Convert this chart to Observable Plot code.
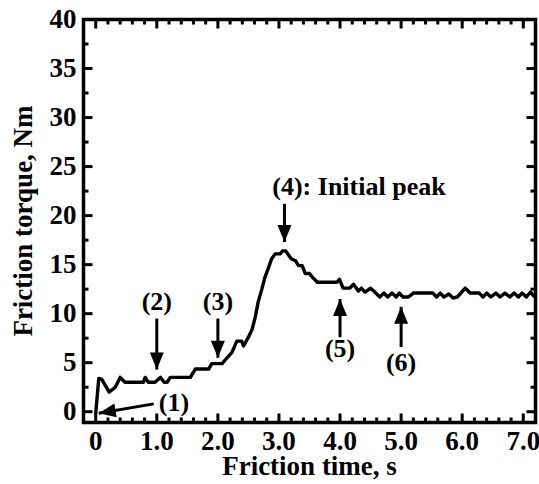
<!DOCTYPE html>
<html><head><meta charset="utf-8">
<script src="https://cdn.jsdelivr.net/npm/d3@7"></script>
<script src="https://cdn.jsdelivr.net/npm/@observablehq/plot@0.6"></script>
<style>body{margin:0;background:#fff} svg{display:block}</style>
</head><body><div id="chart"></div>
<script>
// ---- data ----
const time = [0.0, 0.05, 0.10, 0.22, 0.32, 0.40, 0.48, 0.78, 0.81, 0.86, 0.97, 1.06, 1.12, 1.17, 1.22, 1.55,
  1.63, 1.85, 1.90, 2.07, 2.15, 2.23, 2.31, 2.39, 2.42, 2.50, 2.56, 2.61, 2.66, 2.72, 2.77, 2.83, 2.88, 2.94, 3.02,
  3.06, 3.11, 3.20, 3.27, 3.32, 3.38, 3.43, 3.50, 3.55, 3.63, 3.95, 3.99, 4.05, 4.16, 4.22, 4.30, 4.35, 4.41, 4.50,
  4.57, 4.65, 4.72, 4.78, 4.85, 4.92, 4.97, 5.03, 5.12, 5.20, 5.52, 5.58, 5.64, 5.70, 5.78, 5.85, 5.92, 6.05, 6.13,
  6.28, 6.34, 6.40, 6.47, 6.55, 6.62, 6.70, 6.78, 6.85, 6.92, 6.98, 7.05, 7.12, 7.17];
const torque = [-0.2, 3.4, 3.3, 2.0, 2.5, 3.5, 3.0, 3.0, 3.5, 3.0, 3.0, 3.5, 3.0, 3.0, 3.5, 3.5,
  4.35, 4.35, 4.9, 4.9, 5.5, 6.05, 7.2, 7.2, 6.7, 7.6, 8.4, 9.6, 11.2, 12.5, 13.7, 14.7, 15.6, 16.1, 16.1,
  16.4, 16.4, 15.6, 15.4, 14.9, 14.9, 14.1, 14.1, 13.7, 13.2, 13.2, 13.5, 12.6, 12.6, 13.0, 12.3, 12.6, 12.2, 12.6,
  12.2, 11.7, 12.1, 11.7, 12.1, 11.7, 12.1, 11.7, 11.7, 12.1, 12.1, 11.7, 12.1, 11.7, 12.0, 11.6, 11.7, 12.6, 12.1,
  12.1, 11.7, 12.1, 11.7, 12.1, 11.7, 12.1, 11.7, 12.1, 11.7, 12.1, 11.7, 12.2, 11.8];

const xTicks = [0, 1, 2, 3, 4, 5, 6, 7];
const xTickLabels = ["0", "1.0", "2.0", "3.0", "4.0", "5.0", "6.0", "7.0"];
const xMinor = [0.2, 0.4, 0.6, 0.8, 1.2, 1.4, 1.6, 1.8, 2.2, 2.4, 2.6, 2.8, 3.2, 3.4, 3.6, 3.8,
  4.2, 4.4, 4.6, 4.8, 5.2, 5.4, 5.6, 5.8, 6.2, 6.4, 6.6, 6.8];
const yTicks = [0, 5, 10, 15, 20, 25, 30, 35, 40];
const yTickLabels = ["0", "5", "10", "15", "20", "25", "30", "35", "40"];
const yMinor = [2.5, 7.5, 12.5, 17.5, 22.5, 27.5, 32.5, 37.5];

const noteText = ["(1)", "(2)", "(3)", "(4): Initial peak", "(5)", "(6)"];
const noteX = [1.28, 1.0, 2.0, 4.31, 4.0, 5.0];
const noteY = [0.9, 11.2, 11.2, 22.9, 6.4, 5.0];
const arrowX1 = [0.95, 1.0, 2.0, 3.09, 4.0, 5.0];
const arrowY1 = [0.8, 9.5, 9.5, 21.2, 7.6, 6.6];
const arrowX2 = [0.05, 1.0, 2.0, 3.09, 4.0, 5.0];
const arrowY2 = [-0.15, 4.3, 5.5, 17.3, 11.5, 10.7];
const arrowDir = ["left", "down", "down", "down", "up", "up"];

// ---- build ----
const series = time.map((t, i) => ({t, v: torque[i]}));
const notes = noteText.map((s, i) => ({s, x: noteX[i], y: noteY[i]}));
const arrows = arrowDir.map((d, i) => ({d, x1: arrowX1[i], y1: arrowY1[i], x2: arrowX2[i], y2: arrowY2[i]}));

const angles = {down: 90, up: -90, left: 170.3};
function headSymbol(deg) {
  const a = deg * Math.PI / 180, ux = Math.cos(a), uy = Math.sin(a), px = -uy, py = ux;
  const L = 17, W = 7;
  return {draw(ctx) {
    ctx.moveTo(0, 0);
    ctx.lineTo(-L * ux + W * px, -L * uy + W * py);
    ctx.lineTo(-L * ux - W * px, -L * uy - W * py);
    ctx.closePath();
  }};
}
function tickSymbol(deg, L) {
  const a = deg * Math.PI / 180, ux = Math.cos(a), uy = Math.sin(a);
  return {draw(ctx) { ctx.moveTo(0, 0); ctx.lineTo(L * ux, L * uy); }};
}
const tickStyle = {fill: "none", stroke: "black", strokeWidth: 3, r: 4};
function tickMarks(values, dim, anchor, deg, L) {
  const o = {...tickStyle, frameAnchor: anchor, symbol: tickSymbol(deg, L)};
  o[dim] = d => d;
  return Plot.dot(values, o);
}

const font = "'Liberation Serif', 'Times New Roman', serif";
const chart = Plot.plot({
  width: 539, height: 484,
  marginLeft: 83, marginRight: 4, marginTop: 19, marginBottom: 62,
  x: {domain: [-0.2, 7.2]},
  y: {domain: [-1.1, 40]},
  style: {fontFamily: font, fontWeight: "bold", fontSize: "27px", background: "white", color: "black"},
  marks: [
    Plot.line(series, {x: "t", y: "v", stroke: "black", strokeWidth: 3.4, strokeLinejoin: "round"}),
    Plot.frame({stroke: "black", strokeWidth: 3.5}),
    // inward ticks on all four sides
    tickMarks(xTicks, "x", "bottom", -90, 9),
    tickMarks(xMinor, "x", "bottom", -90, 5),
    tickMarks(xTicks, "x", "top", 90, 9),
    tickMarks(xMinor, "x", "top", 90, 5),
    tickMarks(yTicks, "y", "left", 0, 9),
    tickMarks(yMinor, "y", "left", 0, 5),
    tickMarks(yTicks, "y", "right", 180, 9),
    tickMarks(yMinor, "y", "right", 180, 5),
    Plot.axisX({ticks: xTicks, tickSize: 0, tickPadding: 8, label: null, fontSize: 27, fontWeight: "bold",
      tickFormat: d => xTickLabels[xTicks.indexOf(d)]}),
    Plot.axisY({ticks: yTicks, tickSize: 0, tickPadding: 7, label: null, fontSize: 27, fontWeight: "bold",
      tickFormat: d => yTickLabels[yTicks.indexOf(d)]}),
    Plot.text(["Friction time, s"], {frameAnchor: "bottom", textAnchor: "middle", dy: 44, fontSize: 27, fontWeight: "bold", lineAnchor: "middle"}),
    Plot.text(["Friction torque, Nm"], {frameAnchor: "left", textAnchor: "middle", dx: -60, rotate: -90, fontSize: 27, fontWeight: "bold", lineAnchor: "middle"}),
    // annotations
    Plot.link(arrows, {x1: "x1", y1: "y1", x2: "x2", y2: "y2", stroke: "black", strokeWidth: 3}),
    ...Object.keys(angles).map(k => Plot.dot(arrows.filter(a => a.d === k),
      {x: "x2", y: "y2", symbol: headSymbol(angles[k]), fill: "black", stroke: "none", r: 5})),
    Plot.text(notes, {x: "x", y: "y", text: "s", fontSize: 26, fontWeight: "bold", lineAnchor: "middle"})
  ]
});
document.getElementById("chart").append(chart);
</script>
</body></html>
